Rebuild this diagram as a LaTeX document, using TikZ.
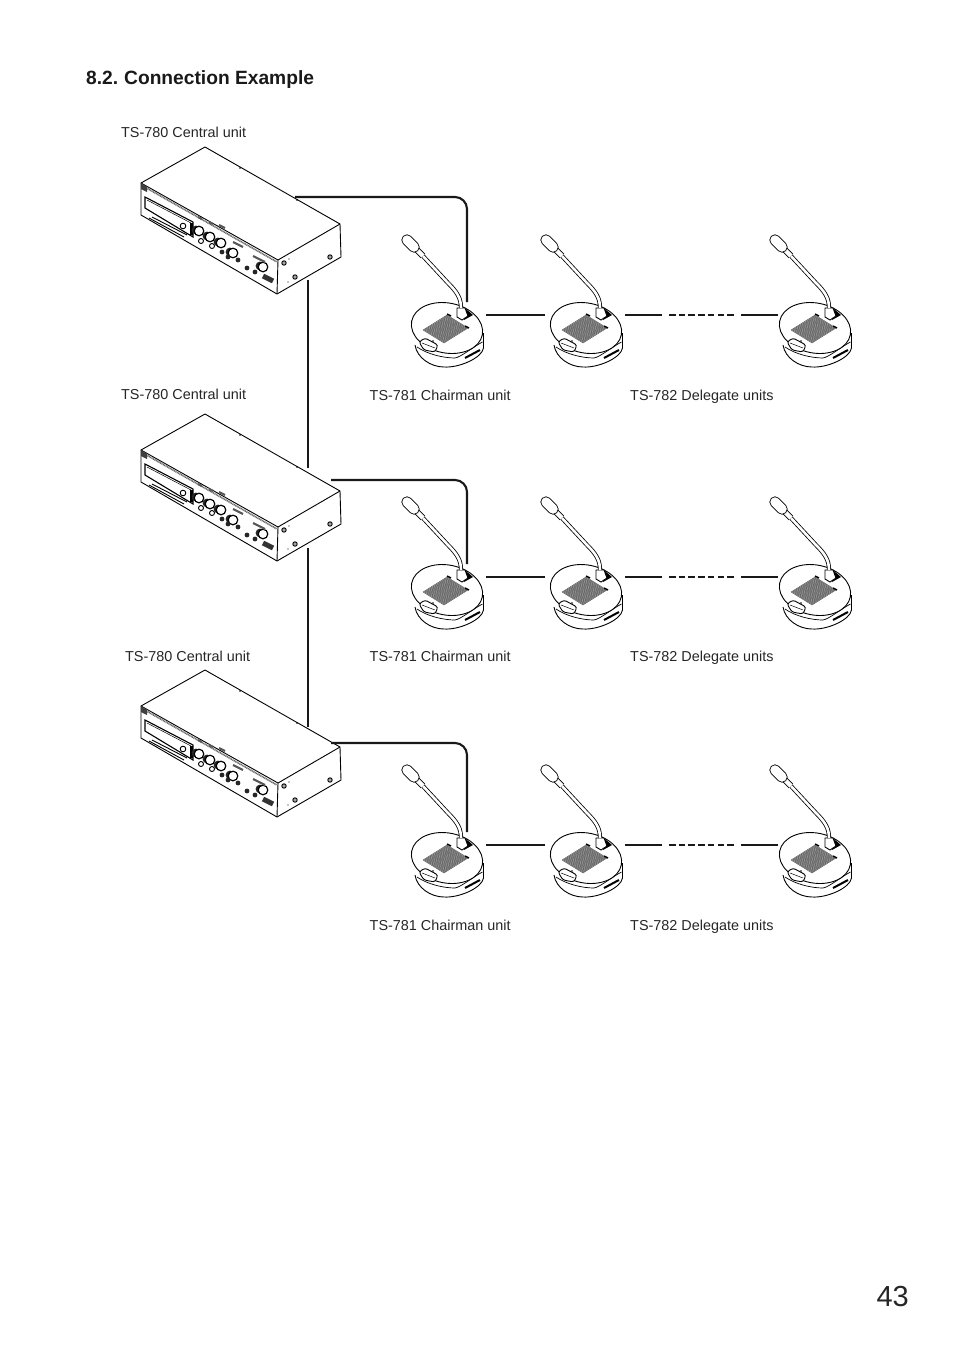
\documentclass[tikz,border=0pt]{standalone}
\usepackage{fontspec}
\setmainfont{Liberation Sans}
\usetikzlibrary{
  calc, % for the shifted cable ends
}
\tikzset{
  lbl/.style={ % style for the unit labels
    anchor=base west,
    inner sep=0pt,
    font=\fontsize{14.4}{16}\selectfont,
    text=black!85,
  },
  conn/.style={ % style for the cables between the units
    line width=2.1pt,
    black!90,
    rounded corners=12pt,
  },
  thin line/.style={line width=.9pt}, % outline of the drawn units
  knob/.style={line width=1.2pt,fill=white}, % round controls on the front panel
  blob/.style={fill=black!85}, % small dark connectors on the front panel
  legend bar/.style={line width=2.2pt,black!65}, % printed captions on the panel
  grille/.style={line width=.4pt,black!65}, % speaker grille lines
  centralunit/.pic={ % origin is the far top corner of the box
    \draw[thin line,line join=round] (0,0) -- (135,77) -- (136,110) -- (72,147) -- (-64,68) -- (-64,36) -- cycle;
    \draw[thin line] (-64,36) -- (73,113) -- (135,77);
    \draw[thin line] (73,113) -- (72,147);
    \draw[line width=1.6pt,black!60,dash pattern=on 1pt off .6pt] (-63,38.5) -- (72,115);
    \fill[black!75] (-64,36) -- (-58,39.5) -- (-58,45) -- (-64,42) -- cycle;
    % display window
    \draw[line width=1.1pt] (-60,50) -- (-12,75) -- (-12,90) -- (-60,61) -- cycle;
    \draw[line width=.5pt] (-58,53) -- (-14,76);
    \draw[line width=3pt] (-13.5,76) -- (-13.5,88);
    \draw[thin line] (-53,70) -- (-18,88);
    \draw[thin line] (-56,71) -- (-21,90);
    \draw[thin line,fill=white] (-22,79) circle (2.8);
    % controls
    \foreach \kx/\ky in {-6/84,5/90,16/96,28/106,58/120} {
      \fill[black!85] (\kx-3,\ky-1) circle (4.4);
      \draw[knob] (\kx,\ky) circle (4.8);
    }
    \foreach \kx/\ky in {-4/94,7/99} {
      \draw[thin line,fill=white] (\kx,\ky) circle (2.5);
    }
    \foreach \kx/\ky in {17/105,23/110,33/113,42/121,50/125} {
      \fill[blob] (\kx,\ky) circle (2.4);
    }
    \draw[legend bar] (-7,70) -- (-3,72);
    \draw[legend bar] (4,75) -- (8,77);
    \draw[legend bar] (14,78) -- (20,81);
    \draw[legend bar] (28,95) -- (38,100);
    \draw[legend bar] (48,109) -- (60,115);
    \draw[line width=5pt,black!80] (58,129) -- (68,134);
    % side panel
    \foreach \kx/\ky in {79/116,90/130,125/110} {
      \draw[thin line,fill=black!35] (\kx,\ky) circle (2.2);
    }
    \fill (84,112) circle (.7) (83,135) circle (.7) (92,53) circle (.8) (35,21) circle (.8);
  },
  micunit/.pic={ % origin is the middle of the round base
    % lower shell
    \draw[thin line] (-32,15) .. controls (-30,28) and (-16,37) .. (-3,37) .. controls (12,38) and (35,28) .. (36.5,18) -- (36.5,3);
    \draw[line width=.7pt] (-30,17) .. controls (-20,24) and (-4,28) .. (8,28) .. controls (14,27) and (26,17) .. (35.5,12);
    \draw[line width=2pt] (18,28) -- (33,20);
    % top plate
    \draw[thin line,fill=white] (0,-2) ellipse [x radius=36pt,y radius=25pt,rotate=-11];
    % speaker grille
    \foreach \gt in {0,.04,...,1.01} {
      \draw[grille] ({0-24*\gt},{-15+15*\gt}) -- ({21-24*\gt},{-2+15*\gt});
      \draw[grille] ({0+21*\gt},{-15+13*\gt}) -- ({-24+21*\gt},{0+13*\gt});
    }
    \draw[line width=1.5pt] (0,-16) -- (4,-14);
    \draw[line width=1.5pt] (18,-4) -- (22,-2);
    % talk key
    \draw[thin line,rounded corners=2.5pt,fill=white] (-28,12) -- (-22,8) -- (-9,15) -- (-12,22) -- (-23,20) -- cycle;
    \draw[line width=.5pt] (-25,13) -- (-12,18);
    \fill (-14,11) circle (.9);
    % neck socket
    \fill (19,-21) -- (26,-15) -- (17,-10) -- cycle;
    \draw[thin line,fill=white] (10,-22) -- (10,-13) -- (15,-10) -- (21,-14) -- (18,-22) -- cycle;
    % gooseneck and microphone
    \draw[line width=.8pt,double=white,double distance=2.6pt] (14,-22) .. controls (14,-32) and (10,-38) .. (1,-47) -- (-25,-75);
    \draw[line width=.8pt,double=white,double distance=4.5pt] (-24,-74) -- (-31,-81);
    \draw[line width=.9pt,double=white,double distance=9.5pt,line cap=round] (-33,-83) -- (-40,-90);
    \coordinate (-cable) at (20,-28); % where the supply cable stops
    \coordinate (-left) at (-41,-15); % link towards the previous unit
    \coordinate (-right) at (39,-15); % link towards the next unit
  },
}
\begin{document}
\begin{tikzpicture}[x=1pt,y=-1pt]
	\useasboundingbox (0,0) rectangle (954,1350);

	\node[anchor=base west,inner sep=0pt,font=\fontsize{19.2}{22}\selectfont\bfseries,text=black!90] (title) at (86,84) {8.2.\kern.6pt\ Connection Example};
	\node[anchor=base east,inner sep=0pt,font=\fontsize{29}{34}\selectfont,text=black!85] (page) at (909,1306) {43};

	\pic (cua) at (205,147) {centralunit};
	\pic (cub) at (205,414) {centralunit};
	\pic (cuc) at (205,670) {centralunit};

	\foreach \rowname/\rowy in {a/330,b/592,c/860} {
		\pic (m\rowname1) at (447,\rowy) {micunit};
		\pic (m\rowname2) at (586,\rowy) {micunit};
		\pic (m\rowname3) at (815,\rowy) {micunit};
	}

	\node[lbl] (la) at (121,137) {TS-780 Central unit};
	\node[lbl] (lb) at (121,399) {TS-780 Central unit};
	\node[lbl] (lc) at (125,661) {TS-780 Central unit};
	\foreach \rowname/\rowy in {a/400,b/661,c/930} {
		\node[lbl] (ch\rowname) at (369.5,\rowy) {TS-781 Chairman unit};
		\node[lbl] (de\rowname) at (630,\rowy) {TS-782 Delegate units};
	}

	\coordinate (outa) at (295,197);
	\coordinate (outb) at (331,480);
	\coordinate (outc) at (331,743);
	\coordinate (loopa) at (308,280);
	\coordinate (loopb) at (308,468);
	\coordinate (loopc) at (308,548);
	\coordinate (loopd) at (308,727);

	\draw[conn] (outa) -| (ma1-cable);
	\draw[conn] (outb) -| (mb1-cable);
	\draw[conn] (outc) -| (mc1-cable);
	\draw[conn] (loopa) -- (loopb);
	\draw[conn] (loopc) -- (loopd);

	\foreach \rowname in {a,b,c} {
		\draw[conn] (m\rowname1-right) -- (m\rowname2-left);
		\coordinate (gap\rowname1) at ($(m\rowname2-right)+(37,0)$);
		\coordinate (gap\rowname2) at ($(gap\rowname1)+(7,0)$);
		\coordinate (gap\rowname3) at ($(gap\rowname2)+(65,0)$);
		\coordinate (gap\rowname4) at ($(gap\rowname3)+(7,0)$);
		\draw[conn] (m\rowname2-right) -- (gap\rowname1);
		\draw[conn,dash pattern=on 6.5pt off 3.2pt] (gap\rowname2) -- (gap\rowname3);
		\draw[conn] (gap\rowname4) -- ([xshift=4pt]m\rowname3-left);
	}

\end{tikzpicture}
\end{document}
